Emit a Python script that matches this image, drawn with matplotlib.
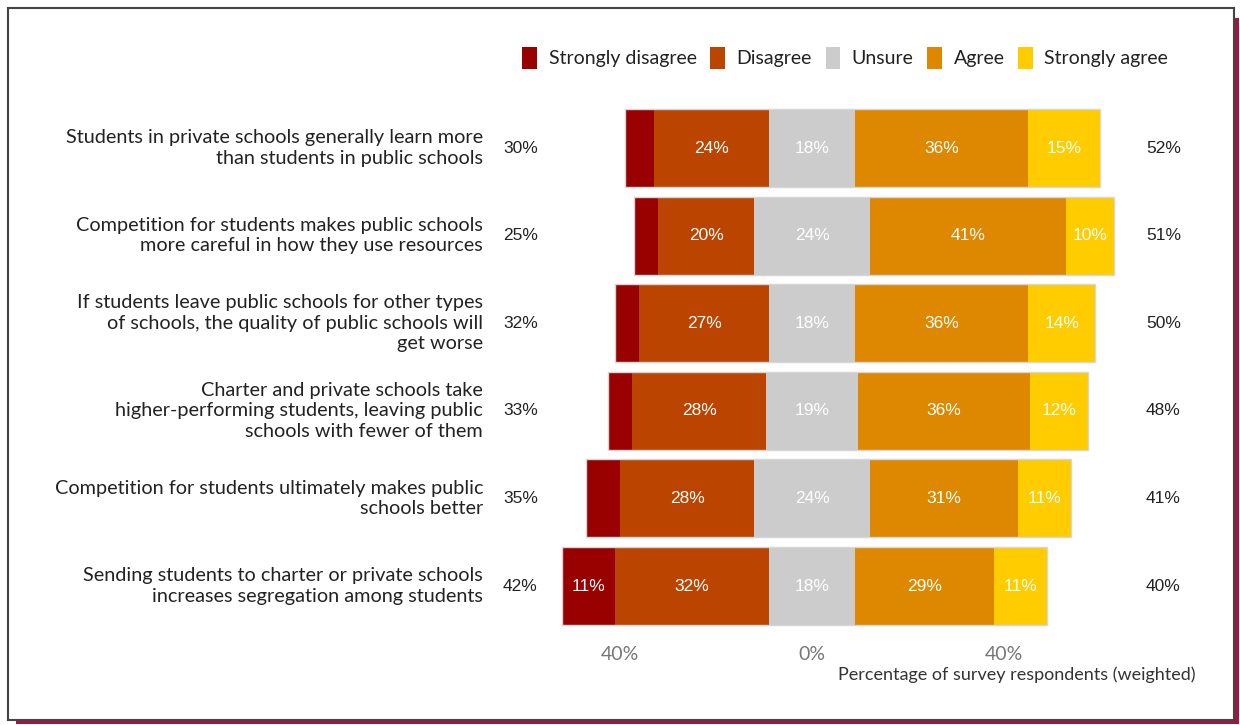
import matplotlib
matplotlib.use('Agg')
import matplotlib.pyplot as plt
from matplotlib.patches import Rectangle, Patch
import numpy as np

# survey statements (top to bottom) and response shares in percent
statements = [
    'Students in private schools generally learn more\nthan students in public schools',
    'Competition for students makes public schools\nmore careful in how they use resources',
    'If students leave public schools for other types\nof schools, the quality of public schools will\nget worse',
    'Charter and private schools take\nhigher-performing students, leaving public\nschools with fewer of them',
    'Competition for students ultimately makes public\nschools better',
    'Sending students to charter or private schools\nincreases segregation among students',
]
strongly_disagree = [6, 5, 5, 5, 7, 11]
disagree = [24, 20, 27, 28, 28, 32]
unsure = [18, 24, 18, 19, 24, 18]
agree = [36, 41, 36, 36, 31, 29]
strongly_agree = [15, 10, 14, 12, 11, 11]
total_disagree = [30, 25, 32, 33, 35, 42]
total_agree = [52, 51, 50, 48, 41, 40]

categories = ['Strongly disagree', 'Disagree', 'Unsure', 'Agree', 'Strongly agree']
colors = ['#990000', '#bb4500', '#cccccc', '#dd8800', '#ffcc00']

W, H = 1240, 725
fig = plt.figure(figsize=(W / 100, H / 100), dpi=100)

# card frame with a crimson drop shadow
fig.patches.append(Rectangle((16 / W, 1 - 724 / H), 1223 / W, 706 / H,
                             transform=fig.transFigure, facecolor='#a3153f',
                             edgecolor='none', zorder=-2))
fig.patches.append(Rectangle((8 / W, 1 - 720 / H), 1226 / W, 712 / H,
                             transform=fig.transFigure, facecolor='white',
                             edgecolor='#444444', linewidth=1.5, zorder=-1))

ax = fig.add_axes([500 / W, 1 - 640 / H, 712 / W, 540 / H])
ax.set_facecolor('none')
ax.set_xlim(-65, 83.33)
ax.set_ylim(5.616, -0.548)

series = np.array([strongly_disagree, disagree, unsure, agree, strongly_agree], dtype=float)
y = np.arange(len(statements))
start = -(series[0] + series[1] + series[2] / 2)
bar_h = 0.89

left = start.copy()
for vals, col in zip(series, colors):
    ax.barh(y, vals, left=left, height=bar_h, color=col, edgecolor='none', zorder=2)
    for yi, v, l in zip(y, vals, left):
        if v >= 10:
            ax.text(l + v / 2, yi, f'{int(v)}%', ha='center', va='center',
                    color='white', fontsize=12.5, family='Liberation Sans', zorder=3)
    left = left + vals

# light outline around each full bar
ax.barh(y, series.sum(axis=0), left=start, height=bar_h, fill=False,
        edgecolor='#d6d6d6', linewidth=1, zorder=4)

for yi, txt, d, a in zip(y, statements, total_disagree, total_agree):
    ax.text(-68.5, yi, txt, ha='right', va='center', fontsize=14.3,
            family='Lato', color='#222222', linespacing=1.25, clip_on=False)
    ax.text(-64.4, yi, f'{d}%', ha='left', va='center', fontsize=12.5,
            family='Liberation Sans', color='#222222')
    ax.text(69.6, yi, f'{a}%', ha='left', va='center', fontsize=12.5,
            family='Liberation Sans', color='#222222', clip_on=False)

ax.set_xticks([-40, 0, 40])
ax.set_xticklabels(['40%', '0%', '40%'], family='Lato', fontsize=14, color='#777777')
ax.tick_params(axis='x', length=0, pad=4)
ax.set_yticks([])
for s in ax.spines.values():
    s.set_visible(False)

fig.text(1195 / W, 1 - 675 / H, 'Percentage of survey respondents (weighted)',
         ha='right', va='center', fontsize=13, family='Lato', color='#333333')

handles = [Patch(facecolor=c, edgecolor='none') for c in colors]
fig.legend(handles, categories, loc='center right', bbox_to_anchor=(1176 / W, 1 - 58 / H),
           ncol=5, frameon=False, prop={'family': 'Lato', 'size': 14},
           handlelength=0.75, handleheight=1.4, handletextpad=0.6,
           columnspacing=0.7, borderaxespad=0, labelcolor='#222222')

fig.savefig('out.png', dpi=100)
